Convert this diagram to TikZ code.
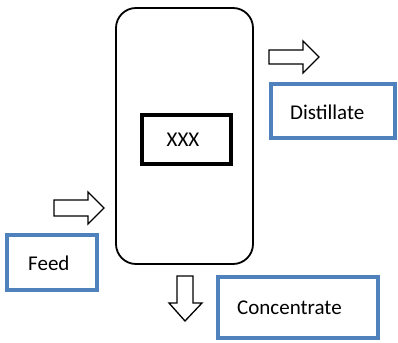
\documentclass[tikz,border=0pt]{standalone}
\usepackage{fontspec}
\setmainfont{Carlito}
\definecolor{officeblue}{RGB}{79,129,189}
\begin{document}
\begin{tikzpicture}[x=1pt,y=-1pt,
  labelbox/.style={draw=officeblue,line width=4pt,rectangle,inner sep=0pt},
  labeltext/.style={font=\fontsize{21}{25}\selectfont,inner sep=0pt,anchor=west},
  blockarrow/.style={draw=black,line width=1.3pt,fill=white,line join=miter}]
\useasboundingbox (0,0) rectangle (398,342);
% column
\node[draw,line width=1.8pt,rounded corners=20pt,minimum width=137pt,minimum height=256pt,inner sep=0pt] (col) at (184.5,136) {};
% xxx box
\node[draw,line width=4pt,minimum width=89pt,minimum height=49pt,inner sep=0pt] (xxxbox) at (186.5,139.5) {};
\node[labeltext,anchor=center] (xxx) at (183,140) {XXX};
% label boxes
\node[labelbox,minimum width=124pt,minimum height=54pt] (distbox) at (333,111) {};
\node[labeltext] (dist) at (290,112) {Distillate};
\node[labelbox,minimum width=90pt,minimum height=55pt] (feedbox) at (52,262.5) {};
\node[labeltext] (feed) at (28,263) {Feed};
\node[labelbox,minimum width=160pt,minimum height=61pt] (concbox) at (298,307.5) {};
\node[labeltext] (conc) at (237,308) {Concentrate};
% block arrows
\draw[blockarrow] (269,50) -- (303,50) -- (303,41) -- (319,57) -- (303,73) -- (303,64) -- (269,64) -- cycle;
\draw[blockarrow] (54,200) -- (88,200) -- (88,192) -- (104,208) -- (88,224) -- (88,216) -- (54,216) -- cycle;
\draw[blockarrow] (177,276) -- (193,276) -- (193,303) -- (202,303) -- (185,321) -- (169,303) -- (177,303) -- cycle;
\end{tikzpicture}
\end{document}
